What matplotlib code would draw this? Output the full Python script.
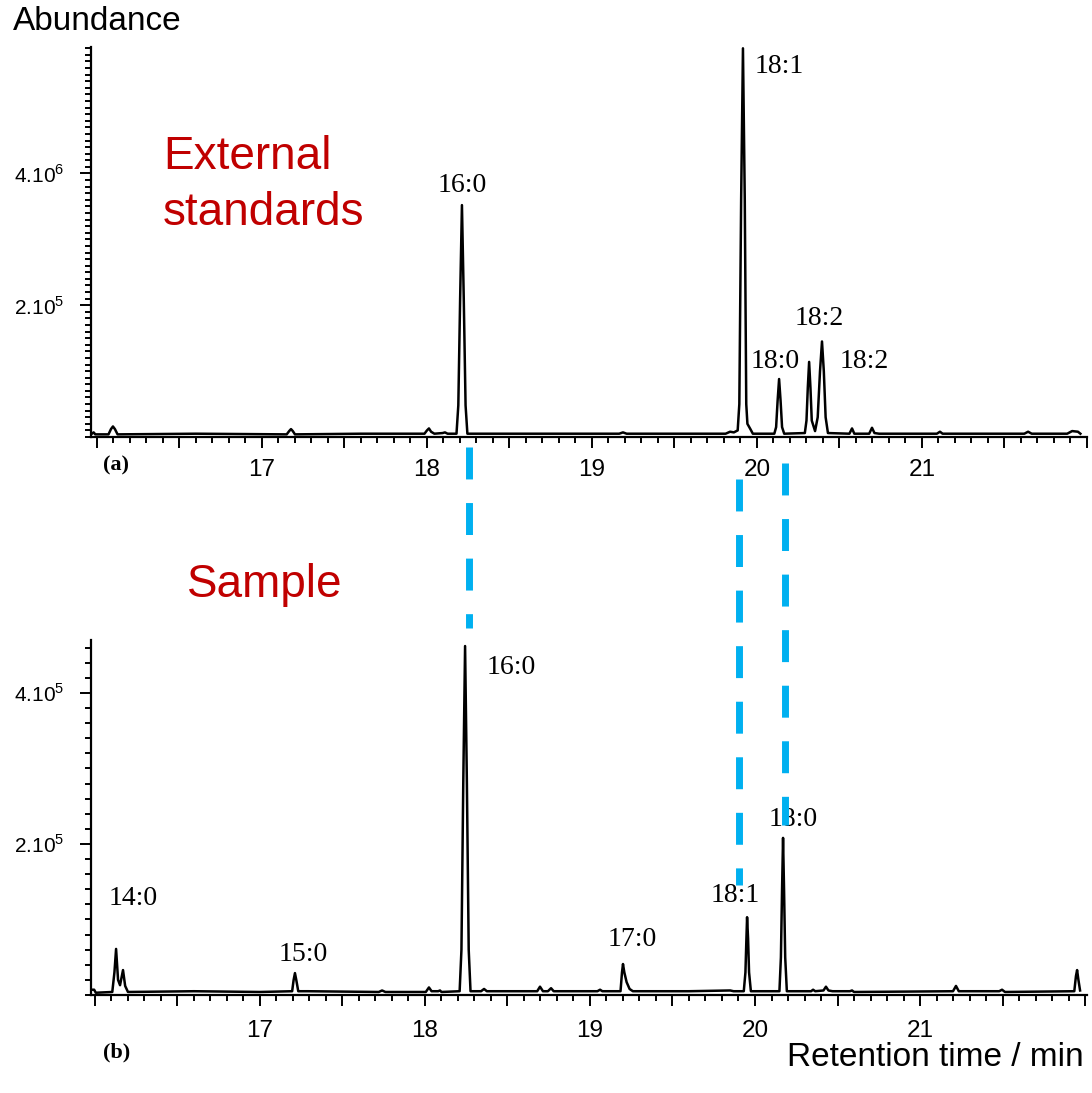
"""GC-MS chromatograms: external standards vs sample (fatty acid methyl esters)."""
import matplotlib
matplotlib.use("Agg")
import matplotlib.pyplot as plt
from matplotlib.lines import Line2D
from matplotlib.ticker import FixedLocator, MultipleLocator, FuncFormatter
import matplotlib.transforms as mtransforms

plt.rcParams["font.family"] = ["Liberation Sans", "DejaVu Sans"]
plt.rcParams["mathtext.fontset"] = "custom"
plt.rcParams["mathtext.rm"] = "Liberation Sans"

# --- data: retention time (min) and abundance (x 1e5) ---
std_time = [15.964, 15.98, 15.99, 16.07, 16.085, 16.097, 16.109, 16.125, 16.60,
            17.15, 17.165, 17.176, 17.187, 17.20, 17.60, 17.985, 18.00, 18.012,
            18.025, 18.045, 18.095, 18.109, 18.125, 18.179, 18.190, 18.201, 18.212,
            18.223, 18.234, 18.245, 18.80, 19.165, 19.188, 19.21, 19.81, 19.837,
            19.86, 19.883, 19.893, 19.904, 19.915, 19.926, 19.935, 19.942, 19.96,
            19.975, 20.105, 20.116, 20.125, 20.134, 20.143, 20.152, 20.165, 20.29,
            20.30, 20.308, 20.316, 20.324, 20.332, 20.352, 20.368, 20.382, 20.394,
            20.405, 20.416, 20.43, 20.56, 20.576, 20.59, 20.68, 20.697, 20.712,
            20.74, 21.09, 21.109, 21.125, 21.62, 21.643, 21.665, 21.88, 21.91,
            21.945, 21.96]
std_abund = [0.04, 0.07, 0.04, 0.04, 0.12, 0.16, 0.12, 0.04, 0.05,
             0.04, 0.09, 0.12, 0.09, 0.04, 0.05, 0.05, 0.10, 0.13,
             0.08, 0.05, 0.06, 0.07, 0.05, 0.05, 0.48, 2.10, 3.52,
             2.10, 0.48, 0.05, 0.05, 0.05, 0.07, 0.05, 0.05, 0.08,
             0.07, 0.10, 0.50, 3.60, 5.90, 3.60, 0.50, 0.20, 0.12,
             0.05, 0.05, 0.15, 0.55, 0.88, 0.55, 0.15, 0.05, 0.06,
             0.25, 0.75, 1.14, 0.75, 0.25, 0.09, 0.30, 1.00, 1.45,
             1.00, 0.30, 0.06, 0.05, 0.13, 0.05, 0.05, 0.14, 0.06,
             0.05, 0.05, 0.08, 0.05, 0.05, 0.08, 0.05, 0.05, 0.09,
             0.08, 0.05]

smp_time = [15.976, 15.995, 16.005, 16.105, 16.118, 16.128, 16.14, 16.152, 16.17,
            16.183, 16.20, 16.60, 17.00, 17.195, 17.204, 17.212, 17.22, 17.232,
            17.29, 17.72, 17.74, 17.76, 18.005, 18.024, 18.04, 18.08, 18.091,
            18.10, 18.21, 18.221, 18.232, 18.243, 18.254, 18.265, 18.276, 18.34,
            18.358, 18.375, 18.68, 18.697, 18.715, 18.745, 18.764, 18.78, 19.045,
            19.061, 19.075, 19.185, 19.194, 19.20, 19.208, 19.222, 19.24, 19.26,
            19.60, 19.85, 19.87, 19.932, 19.942, 19.948, 19.952, 19.958, 19.964,
            19.975, 20.148, 20.157, 20.164, 20.17, 20.176, 20.183, 20.193, 20.34,
            20.352, 20.365, 20.415, 20.43, 20.445, 20.47, 20.575, 20.588, 20.60,
            21.20, 21.218, 21.235, 21.48, 21.497, 21.515, 21.935, 21.945, 21.952,
            21.96, 21.97]
smp_abund = [0.07, 0.07, 0.03, 0.04, 0.30, 0.61, 0.20, 0.13, 0.33,
             0.12, 0.04, 0.05, 0.04, 0.05, 0.20, 0.29, 0.20, 0.05,
             0.05, 0.04, 0.06, 0.04, 0.04, 0.10, 0.05, 0.05, 0.06,
             0.04, 0.05, 0.60, 2.80, 4.62, 2.80, 0.60, 0.05, 0.05,
             0.08, 0.05, 0.05, 0.11, 0.05, 0.05, 0.09, 0.05, 0.05,
             0.07, 0.05, 0.05, 0.30, 0.41, 0.30, 0.17, 0.08, 0.05,
             0.05, 0.06, 0.05, 0.05, 0.30, 0.75, 1.03, 0.75, 0.30,
             0.05, 0.05, 0.50, 1.40, 2.08, 1.40, 0.50, 0.05, 0.05,
             0.07, 0.05, 0.06, 0.11, 0.06, 0.05, 0.05, 0.06, 0.04,
             0.05, 0.12, 0.05, 0.05, 0.07, 0.04, 0.05, 0.25, 0.33,
             0.20, 0.06]

x_labels = [17, 18, 19, 20, 21]
std_peaks = ["16:0", "18:1", "18:2", "18:0", "18:2"]
smp_peaks = ["14:0", "15:0", "16:0", "17:0", "18:1", "18:0"]

# retention times linking standards to sample peaks
match_times = [18.267, 19.903, 20.182]

W, H = 1092, 1093
fig = plt.figure(figsize=(W / 100, H / 100), dpi=100)
ax_a = fig.add_axes([91 / W, 1 - 437 / H, 996 / W, 390 / H])
ax_b = fig.add_axes([91 / W, 1 - 995 / H, 996 / W, 355 / H])

int_only = FuncFormatter(
    lambda v, p: f"{v:.0f}" if any(abs(v - k) < 1e-6 for k in x_labels) else "")


def style(ax, xlim, ylim, ylabels, yminor):
    ax.set_xlim(*xlim)
    ax.set_ylim(*ylim)
    for s in ("top", "right"):
        ax.spines[s].set_visible(False)
    for s in ("left", "bottom"):
        ax.spines[s].set_linewidth(1.6)
    ax.xaxis.set_major_locator(MultipleLocator(0.5))
    ax.xaxis.set_major_formatter(int_only)
    ax.xaxis.set_minor_locator(MultipleLocator(0.1))
    ax.yaxis.set_major_locator(FixedLocator([2, 4]))
    ax.set_yticklabels(ylabels)
    ax.yaxis.set_minor_locator(MultipleLocator(yminor))
    ax.tick_params(axis="both", which="major", length=8, width=1.4, direction="out")
    ax.tick_params(axis="both", which="minor", length=4, width=1.4, direction="out")
    ax.tick_params(axis="x", labelsize=17.5, pad=8)
    ax.tick_params(axis="y", labelsize=15, pad=11)
    ax.patch.set_alpha(0)


style(ax_a, (15.964, 22.0), (0, 5.92),
      [r"2.10$^{\mathregular{5}}$", r"4.10$^{\mathregular{6}}$"], 0.1)
style(ax_b, (15.976, 22.012), (0, 4.70),
      [r"2.10$^{\mathregular{5}}$", r"4.10$^{\mathregular{5}}$"], 0.2)
ax_b.tick_params(axis="x", pad=10)

ax_a.plot(std_time, std_abund, color="black", lw=1.8, solid_joinstyle="round")
ax_b.plot(smp_time, smp_abund, color="black", lw=1.8, solid_joinstyle="round")

# peak labels (text anchors in data coordinates)
std_label_xy = [(18.212, 3.82), (20.134, 5.62), (20.376, 1.80), (20.11, 1.14), (20.649, 1.15)]
smp_label_xy = [(16.23, 1.28), (17.261, 0.53), (18.521, 4.34), (19.255, 0.73),
                (19.879, 1.32), (20.231, 2.32)]
for lab, (x, y) in zip(std_peaks, std_label_xy):
    ax_a.text(x, y, lab, family="Liberation Serif", fontsize=20, ha="center", va="center")
for lab, (x, y) in zip(smp_peaks, smp_label_xy):
    ax_b.text(x, y, lab, family="Liberation Serif", fontsize=20, ha="center", va="center")

red = "#C00000"
fig.text(163 / W, 1 - 157 / H, "External", color=red, fontsize=33, va="center")
fig.text(163 / W, 1 - 213 / H, "standards", color=red, fontsize=33, va="center")
fig.text(187 / W, 1 - 585 / H, "Sample", color=red, fontsize=33, va="center")

fig.text(13 / W, 1 - 21 / H, "Abundance", fontsize=24, va="center")
fig.text(1084 / W, 1 - 1058 / H, "Retention time / min", fontsize=24, va="center", ha="right")
fig.text(103 / W, 1 - 465 / H, "(a)", family="Liberation Serif", fontweight="bold",
         fontsize=16, va="center")
fig.text(103 / W, 1 - 1052 / H, "(b)", family="Liberation Serif", fontweight="bold",
         fontsize=16, va="center")

# dashed connectors: x in data units of panel (b), y in figure fraction
match_spans = [(1 - 447 / H, 1 - 628 / H), (1 - 479 / H, 1 - 885 / H), (1 - 463 / H, 1 - 825 / H)]
trans = mtransforms.blended_transform_factory(ax_b.transData, fig.transFigure)
for t, (y0, y1) in zip(match_times, match_spans):
    fig.add_artist(Line2D([t, t], [y0, y1], transform=trans, color="#00B0F0",
                          lw=5, dashes=(4.6, 3.4), dash_capstyle="butt"))

fig.savefig("out.png", dpi=100)
